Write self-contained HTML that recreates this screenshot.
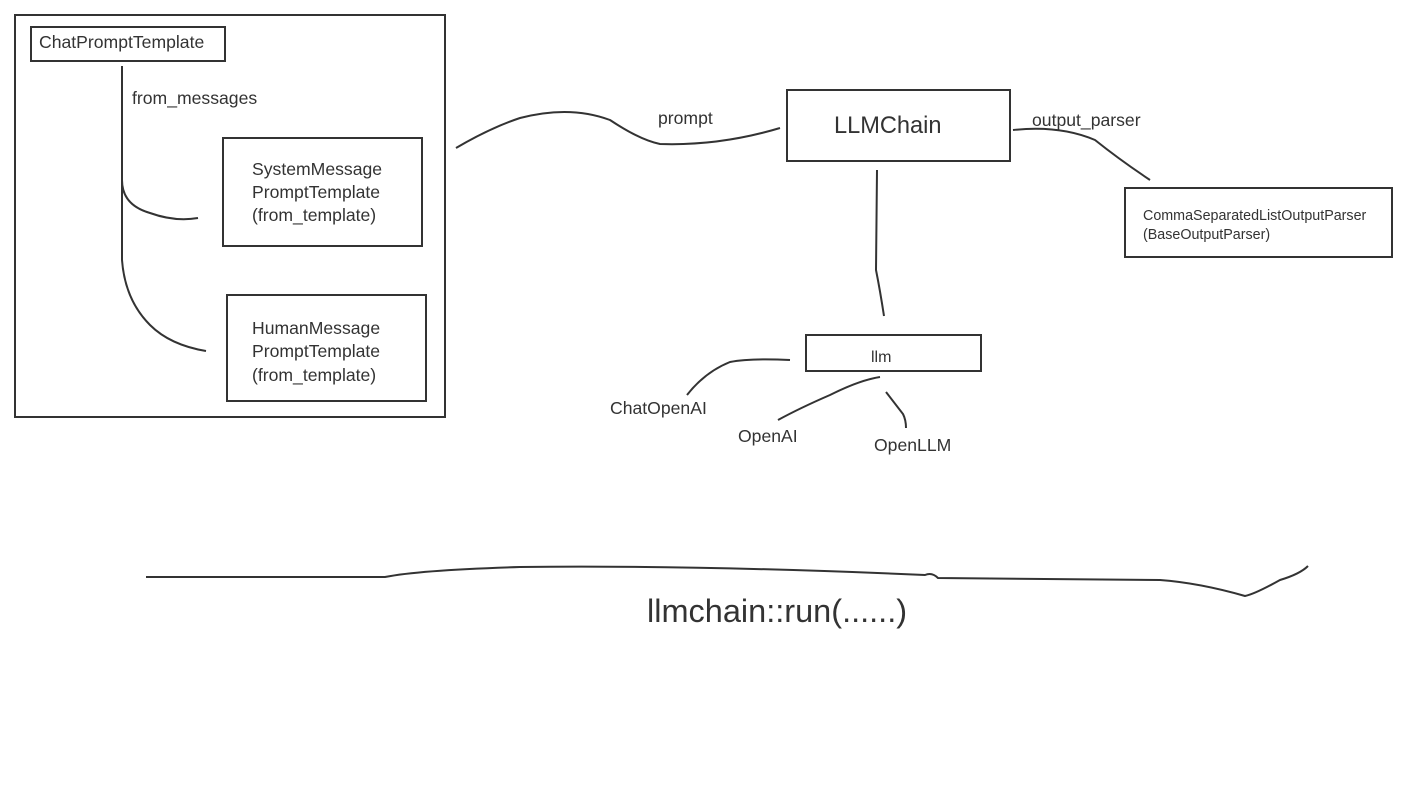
<!DOCTYPE html>
<html><head><meta charset="utf-8"><style>
html,body{margin:0;padding:0;background:#fff;}
svg{display:block;}
text{font-family:"Liberation Sans",sans-serif;fill:#333;}
</style></head><body>
<svg width="1422" height="800" viewBox="0 0 1422 800" xmlns="http://www.w3.org/2000/svg">
<g fill="none" stroke="#333" stroke-width="2">
<rect x="15" y="15" width="430" height="402"/>
<rect x="31" y="27" width="194" height="34"/>
<rect x="223" y="138" width="199" height="108"/>
<rect x="227" y="295" width="199" height="106"/>
<rect x="787" y="90" width="223" height="71"/>
<rect x="1125" y="188" width="267" height="69"/>
<rect x="806" y="335" width="175" height="36"/>
<path d="M122 66 L122 180 Q122 205 150 213 Q175 222 198 218"/>
<path d="M122 180 L122 260 Q125 300 150 325 Q170 345 206 351"/>
<path d="M456 148 Q490 128 520 118 Q570 105 610 120 Q640 140 660 144 Q720 146 780 128"/>
<path d="M1013 130 Q1060 125 1095 140 Q1120 160 1150 180"/>
<path d="M877 170 L876 270 Q880 290 884 316"/>
<path d="M790 360 Q750 358 730 362 Q705 372 687 395"/>
<path d="M880 377 Q860 380 830 395 Q800 408 778 420"/>
<path d="M886 392 Q896 405 903 414 Q906 420 906 428"/>
<path d="M146 577 L385 577 Q420 570 520 567 Q700 565 925 575 Q932 572 938 578 L1160 580 Q1200 583 1245 596 Q1255 594 1280 580 Q1300 574 1308 566"/>
</g>
<g font-size="17.6">
<text x="39" y="48">ChatPromptTemplate</text>
<text x="132" y="104">from_messages</text>
<text x="252" y="175">SystemMessage</text>
<text x="252" y="198">PromptTemplate</text>
<text x="252" y="221">(from_template)</text>
<text x="252" y="334">HumanMessage</text>
<text x="252" y="357">PromptTemplate</text>
<text x="252" y="381">(from_template)</text>
<text x="658" y="124">prompt</text>
<text x="1032" y="126">output_parser</text>
<text x="610" y="414">ChatOpenAI</text>
<text x="738" y="442">OpenAI</text>
<text x="874" y="451">OpenLLM</text>
</g>
<text x="834" y="133" font-size="23.6">LLMChain</text>
<text x="1143" y="220" font-size="14.3">CommaSeparatedListOutputParser</text>
<text x="1143" y="239" font-size="14.3">(BaseOutputParser)</text>
<text x="871" y="362" font-size="16">llm</text>
<text x="647" y="622" font-size="32.5">llmchain::run(......)</text>
</svg>
</body></html>
